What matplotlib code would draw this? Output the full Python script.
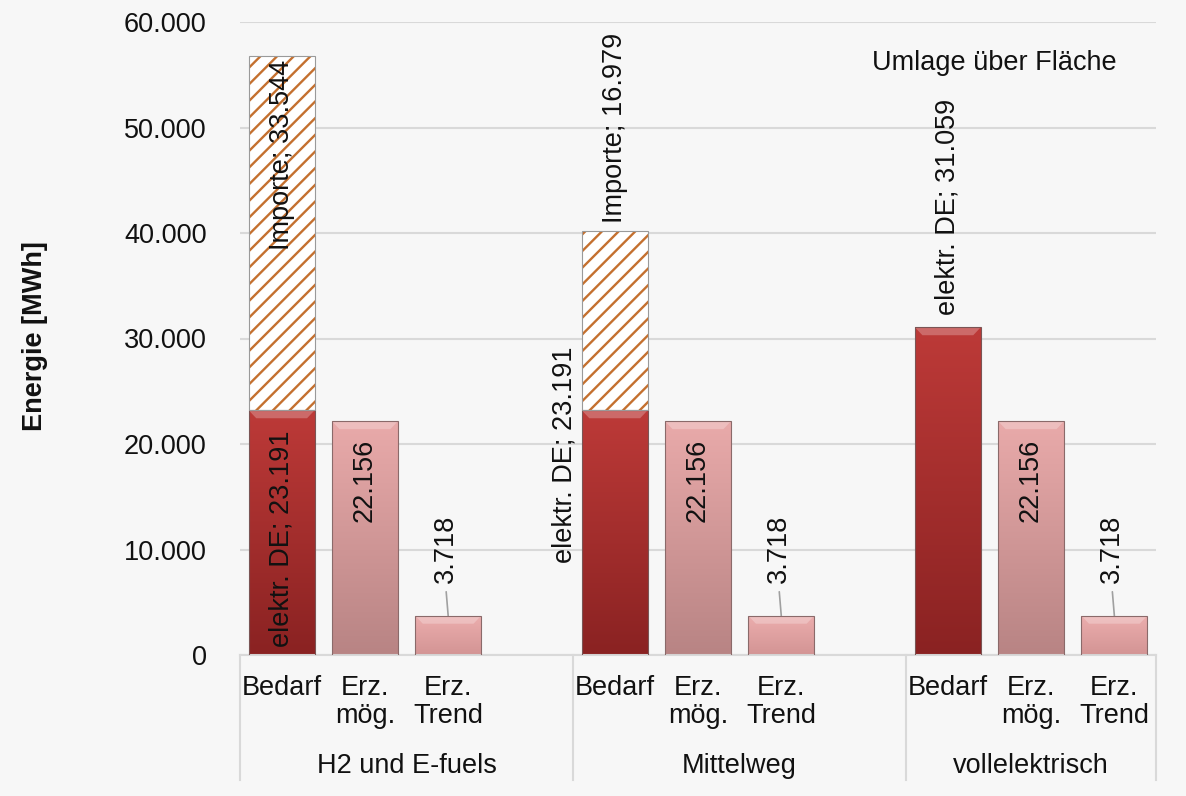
import matplotlib
matplotlib.use("Agg")
import matplotlib.pyplot as plt
import numpy as np
from matplotlib.colors import LinearSegmentedColormap
from matplotlib.patches import Polygon

plt.rcParams["font.family"] = ["Liberation Sans", "DejaVu Sans"]
plt.rcParams["hatch.linewidth"] = 1.7

# ---- data ----
groups = ["H2 und E-fuels", "Mittelweg", "vollelektrisch"]
sub_labels = ["Bedarf", "Erz.\nmög.", "Erz.\nTrend"]
elektr_de = [23191, 23191, 31059]
importe = [33544, 16979, 0]
erz_moeglich = [22156, 22156, 22156]
erz_trend = [3718, 3718, 3718]
yticks = [0, 10000, 20000, 30000, 40000, 50000, 60000]

BG = "#f7f7f7"; GRID = "#d9d9d9"; TXT = "#111111"; FS = 19.5
RED = ("#bd3a38", "#8a2222"); PINK = ("#e9aaaa", "#b88484"); HATCH = "#c4702f"

def fmt(v): return f"{v:,}".replace(",", ".")

fig = plt.figure(figsize=(11.86, 7.96), dpi=100); fig.patch.set_facecolor(BG)
ax = fig.add_axes([240/1186, 1-655/796, 916/1186, 633/796]); ax.set_facecolor(BG)

W = 0.79
pos = [g*4 + np.arange(3) for g in range(3)]
bed_x = [p[0] for p in pos]; moe_x = [p[1] for p in pos]; tr_x = [p[2] for p in pos]

def gradient(bars, cols):
    cm = LinearSegmentedColormap.from_list("g", [cols[1], cols[0]])
    grad = np.linspace(0, 1, 256).reshape(-1, 1)
    for r in bars:
        x0, y0, w, h = r.get_x(), r.get_y(), r.get_width(), r.get_height()
        if h <= 0: continue
        im = ax.imshow(grad, extent=(x0, x0+w, y0, y0+h), origin="lower", cmap=cm,
                       aspect="auto", zorder=2)
        im.set_clip_path(r)
        # top bevel
        by = 750; bx = 0.09
        ax.add_patch(Polygon([(x0, y0+h), (x0+w, y0+h), (x0+w-bx, y0+h-by), (x0+bx, y0+h-by)],
                             closed=True, fc="white", alpha=0.25, ec="none", zorder=3))

b1 = ax.bar(bed_x, elektr_de, W, color="none", ec="#7a5555", lw=0.8, zorder=4)
gradient(b1, RED)
b2 = ax.bar(bed_x, importe, W, bottom=elektr_de, fc="white", ec=HATCH, lw=0, hatch="//", zorder=2)
ax.bar([x for x, v in zip(bed_x, importe) if v], [v for v in importe if v], W,
       bottom=[e for e, v in zip(elektr_de, importe) if v], fill=False, ec="#9a9a9a", lw=0.8, zorder=4)
b3 = ax.bar(moe_x, erz_moeglich, W, color="none", ec="#8a6a6a", lw=0.8, zorder=4)
gradient(b3, PINK)
b4 = ax.bar(tr_x, erz_trend, W, color="none", ec="#8a6a6a", lw=0.8, zorder=4)
gradient(b4, ("#ecaeae", "#d39494"))

ax.set_xlim(-0.5, 10.5); ax.set_ylim(0, 60000)
ax.set_yticks(yticks)
ax.set_yticklabels([fmt(v) for v in yticks], fontsize=FS, color=TXT)
ax.tick_params(axis="y", length=0, pad=24)
ax.set_xticks([])
ax.grid(axis="y", color=GRID, lw=1.5); ax.set_axisbelow(True)
for s in ("left", "right", "top"): ax.spines[s].set_visible(False)
ax.spines["bottom"].set_color(GRID); ax.spines["bottom"].set_linewidth(1.5)

fig.text(35/1186, 1-336/796, "Energie [MWh]", rotation=90, fontsize=FS, fontweight="bold",
         ha="center", va="center", color=TXT)

# data labels
def lab(x, y, s, dx=0, dy=0, va="top"):
    ax.annotate(s, (x, y), xytext=(dx, dy), textcoords="offset pixels", rotation=90,
                ha="center", va=va, fontsize=FS, color=TXT, zorder=6)

lab(bed_x[0], elektr_de[0], "elektr. DE; " + fmt(elektr_de[0]), dy=-20)
lab(bed_x[0], elektr_de[0]+importe[0], "Importe; " + fmt(importe[0]), dy=-3)
lab(bed_x[1], elektr_de[1], "elektr. DE; " + fmt(elektr_de[1]), dx=-50, dy=-44, va="center")
lab(bed_x[1], elektr_de[1]+importe[1], "Importe; " + fmt(importe[1]), dy=8, va="bottom")
lab(bed_x[2], elektr_de[2], "elektr. DE; " + fmt(elektr_de[2]), dy=12, va="bottom")
for i in range(3):
    lab(moe_x[i], erz_moeglich[i], fmt(erz_moeglich[i]), dy=-17)
    lab(tr_x[i], erz_trend[i], fmt(erz_trend[i]), dx=-2, dy=33, va="bottom")
    ax.annotate("", (tr_x[i], erz_trend[i]), xytext=(-2, 24), textcoords="offset pixels",
                arrowprops=dict(arrowstyle="-", color="#a0a0a0", lw=1.2, shrinkA=0, shrinkB=0))

ax.text(0.824, 0.935, "Umlage über Fläche", transform=ax.transAxes, fontsize=FS,
        ha="center", va="center", color=TXT)

# category axis
for g in range(3):
    for j in range(3):
        ax.annotate(sub_labels[j], (pos[g][j], 0), xycoords=("data", "axes fraction"),
                    xytext=(0, -20), textcoords="offset pixels", ha="center", va="top",
                    fontsize=FS, color=TXT, linespacing=1.1, annotation_clip=False)
    gx = (pos[g][0] - 0.5 + (pos[g][2] + 1.5 if g < 2 else 10.5)) / 2
    ax.annotate(groups[g], (gx, 0), xycoords=("data", "axes fraction"), xytext=(0, -111),
                textcoords="offset pixels", ha="center", va="center", fontsize=FS, color=TXT,
                annotation_clip=False)
for xs in (-0.5, 3.5, 7.5, 10.5):
    ax.plot([xs, xs], [0, -125/633], transform=ax.get_xaxis_transform(), color=GRID,
            lw=1.5, clip_on=False)

fig.savefig("out.png", dpi=100, facecolor=BG)
